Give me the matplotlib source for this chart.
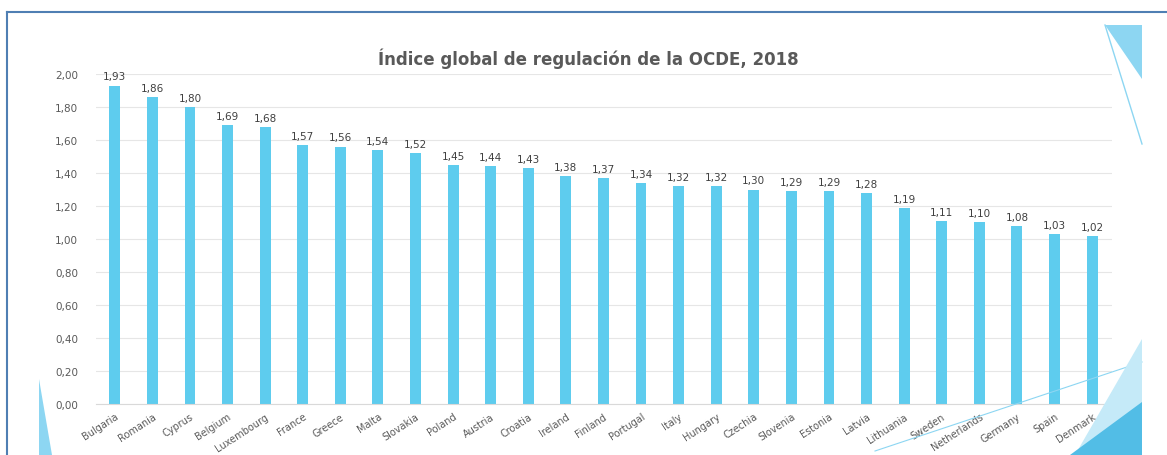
import matplotlib
matplotlib.use("Agg")
import matplotlib.pyplot as plt
from matplotlib.patches import Polygon
from matplotlib.lines import Line2D

countries = ["Bulgaria", "Romania", "Cyprus", "Belgium", "Luxembourg", "France", "Greece",
             "Malta", "Slovakia", "Poland", "Austria", "Croatia", "Ireland", "Finland",
             "Portugal", "Italy", "Hungary", "Czechia", "Slovenia", "Estonia", "Latvia",
             "Lithuania", "Sweden", "Netherlands", "Germany", "Spain", "Denmark"]
values = [1.93, 1.86, 1.80, 1.69, 1.68, 1.57, 1.56, 1.54, 1.52, 1.45, 1.44, 1.43, 1.38, 1.37,
          1.34, 1.32, 1.32, 1.30, 1.29, 1.29, 1.28, 1.19, 1.11, 1.10, 1.08, 1.03, 1.02]
yticks = [0.0, 0.2, 0.4, 0.6, 0.8, 1.0, 1.2, 1.4, 1.6, 1.8, 2.0]
title = "Índice global de regulación de la OCDE, 2018"

W, H = 1167, 456
fig = plt.figure(figsize=(W / 100, H / 100), dpi=100)

def px(x, y):
    return (x / W, 1 - y / H)

# slide decorations
def tri(pts, color):
    fig.patches.append(Polygon([px(*p) for p in pts], closed=True, transform=fig.transFigure,
                               facecolor=color, edgecolor="none", zorder=0))

def seg(p1, p2, color, lw=1.0):
    a, b = px(*p1), px(*p2)
    fig.lines.append(Line2D([a[0], b[0]], [a[1], b[1]], transform=fig.transFigure,
                            color=color, lw=lw, zorder=0))

seg((7, 13), (1167, 13), "#4F7FB3", 1.5)
seg((7, 13), (7, 456), "#4F7FB3", 1.5)
tri([(1105, 26), (1142, 26), (1142, 80)], "#8DD6F2")
seg((1105, 26), (1142, 145), "#8DD6F2", 1.0)
tri([(1142, 340), (1142, 456), (1075, 456)], "#C5EAF8")
tri([(1142, 403), (1142, 456), (1070, 456)], "#52BDE6")
seg((875, 452), (1142, 363), "#8DD6F2", 0.8)
tri([(39, 380), (52, 456), (39, 456)], "#8DD6F2")

ax = fig.add_axes([96 / W, 1 - 405 / H, (1112 - 96) / W, (405 - 75) / H])
x = list(range(len(countries)))
ax.bar(x, values, width=0.29, color="#5ECCEE", zorder=2)
for xi, v in zip(x, values):
    ax.text(xi, v + 0.025, f"{v:.2f}".replace(".", ","), ha="center", va="bottom",
            fontsize=7.5, color="#404040")

ax.set_xlim(-0.5, len(countries) - 0.47)
ax.set_ylim(0, 2.0)
ax.set_yticks(yticks)
ax.set_yticklabels([f"{t:.2f}".replace(".", ",") for t in yticks], fontsize=7.5, color="#595959")
ax.set_xticks(x)
ax.set_xticklabels(countries, rotation=33, ha="right", rotation_mode="anchor",
                   fontsize=7, color="#595959")
ax.tick_params(axis="y", length=0, pad=13)
ax.tick_params(axis="x", length=0, pad=5)
ax.grid(axis="y", color="#E6E6E6", lw=0.8, zorder=0)
for s in ["top", "right", "left"]:
    ax.spines[s].set_visible(False)
ax.spines["bottom"].set_color("#D9D9D9")
ax.set_facecolor("none")

fig.text(588 / W, 1 - 59 / H, title, ha="center", va="center", fontsize=12,
         fontweight="bold", color="#595959")

fig.savefig("out.png", dpi=100)
